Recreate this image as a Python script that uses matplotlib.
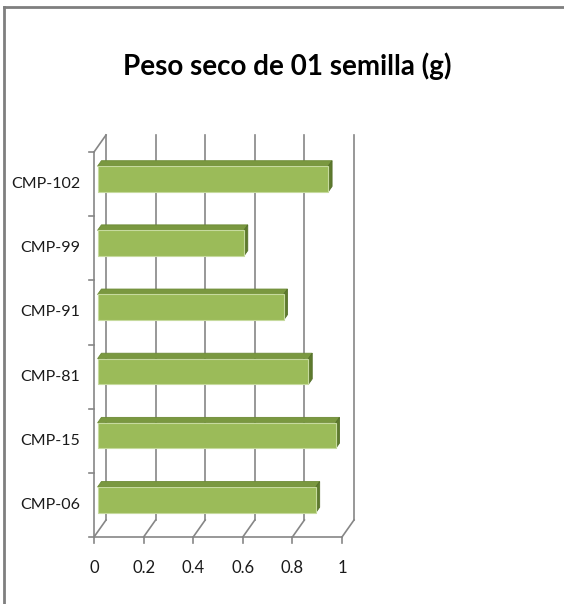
import matplotlib
matplotlib.use('Agg')
import matplotlib.pyplot as plt
from matplotlib.patches import Rectangle, Polygon
from matplotlib.lines import Line2D

# --- data ---
categories = ['CMP-06', 'CMP-15', 'CMP-81', 'CMP-91', 'CMP-99', 'CMP-102']
values = [0.88, 0.96, 0.85, 0.75, 0.59, 0.93]
x_ticks = [0, 0.2, 0.4, 0.6, 0.8, 1.0]
x_tick_labels = ['0', '0.2', '0.4', '0.6', '0.8', '1']
title = 'Peso seco de 01 semilla (g)'

font = ['Lato', 'DejaVu Sans']
grid_color = '#868686'
face_color = '#9BBB59'
top_color = '#7A9840'
side_color = '#5E7A2E'

W, H = 564, 604
fig = plt.figure(figsize=(W / 100, H / 100), dpi=100)

# front plane of the pseudo-3D plot area (pixels)
x0_px, x1_px = 94, 342
ybot_px, ytop_px = 537, 152
ax = fig.add_axes([x0_px / W, 1 - ybot_px / H, (x1_px - x0_px) / W, (ybot_px - ytop_px) / H])
n = len(categories)
ax.set_xlim(0, 1)
ax.set_ylim(0, n)
ax.axis('off')

# depth offset (back wall vs front plane) in data units
DX = 12 / (x1_px - x0_px)
DY = 17 / ((ybot_px - ytop_px) / n)

# back wall gridlines and floor diagonals
for v in x_ticks:
    ax.add_line(Line2D([v + DX, v + DX], [DY, n + DY], color=grid_color, lw=1.2, clip_on=False, zorder=1))
    ax.add_line(Line2D([v, v + DX], [0, DY], color=grid_color, lw=1.2, clip_on=False, zorder=1))

# left wall front edge and top diagonal
ax.add_line(Line2D([0, 0], [0, n], color=grid_color, lw=1.2, clip_on=False, zorder=1))
ax.add_line(Line2D([0, DX], [n, n + DY], color=grid_color, lw=1.2, clip_on=False, zorder=1))
# floor front edge
ax.add_line(Line2D([0, 1], [0, 0], color=grid_color, lw=1.2, clip_on=False, zorder=1))

# tick marks
tx = 5 / (x1_px - x0_px)
ty = 6 / ((ybot_px - ytop_px) / n)
for v in x_ticks:
    ax.add_line(Line2D([v, v], [0, -ty], color=grid_color, lw=1.2, clip_on=False))
for k in range(n + 1):
    ax.add_line(Line2D([0, -tx], [k, k], color=grid_color, lw=1.2, clip_on=False))

# bars
d1, d2 = 0.3, 0.62
h = 0.2
ddx, ddy = (d2 - d1) * DX, (d2 - d1) * DY
for i, v in enumerate(values):
    bx = d1 * DX
    by = i + 0.5 - h + d1 * DY
    top = by + 2 * h
    ax.add_patch(Polygon([(bx, top), (bx + v, top), (bx + v + ddx, top + ddy), (bx + ddx, top + ddy)],
                         closed=True, facecolor=top_color, edgecolor='#6C8A35', lw=0.6, zorder=3, clip_on=False))
    ax.add_patch(Polygon([(bx + v, by), (bx + v, top), (bx + v + ddx, top + ddy), (bx + v + ddx, by + ddy)],
                         closed=True, facecolor=side_color, edgecolor='#55702A', lw=0.6, zorder=3, clip_on=False))
    ax.add_patch(Rectangle((bx, by), v, 2 * h, facecolor=face_color, edgecolor='#C6DA9E',
                           lw=0.8, zorder=4, clip_on=False))

# category labels
for i, c in enumerate(categories):
    ax.text(-0.055, i + 0.5, c, ha='right', va='center', fontsize=11.5, family=font, color='#1a1a1a')
# value labels
for v, lab in zip(x_ticks, x_tick_labels):
    ax.text(v, -0.48, lab, ha='center', va='center', fontsize=12, family=font, color='#1a1a1a')

fig.text(287 / W, 1 - 66 / H, title, ha='center', va='center', fontsize=20, fontweight='bold',
         family=font, color='black')

# chart frame (top and left edges visible)
fig.add_artist(Line2D([4 / W, 1], [1 - 7 / H, 1 - 7 / H], color='#7f7f7f', lw=2, transform=fig.transFigure))
fig.add_artist(Line2D([4 / W, 4 / W], [0, 1 - 7 / H], color='#7f7f7f', lw=2, transform=fig.transFigure))

fig.savefig('out.png', dpi=100)
